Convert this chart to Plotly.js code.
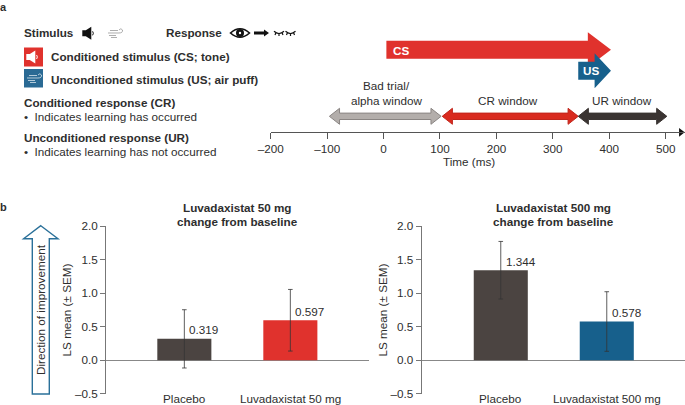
<!DOCTYPE html>
<html><head><meta charset="utf-8">
<script src="https://cdn.plot.ly/plotly-3.0.1.min.js"></script>
<style>html,body{margin:0;padding:0;background:#fff}#c{width:685px;height:405px}</style></head>
<body><div id="c"></div>
<script>
// ---- data ----
var timeTicks = [-200,-100,0,100,200,300,400,500];
var timeLabels = ['–200','–100','0','100','200','300','400','500'];
var csStart = 5, csEnd = 403;
var usStart = 345, usEnd = 403;
var badWindow = [-96,102];
var crWindow = [104,345];
var urWindow = [345,502];
var catsA = ['Placebo','Luvadaxistat 50 mg'];
var valsA = [0.319,0.597];
var semA = [0.435,0.46];
var catsB = ['Placebo','Luvadaxistat 500 mg'];
var valsB = [1.344,0.578];
var semB = [0.43,0.445];
var yTicks = [-0.5,0,0.5,1,1.5,2];
var yLabels = ['–0.5','0.0','0.5','1.0','1.5','2.0'];
var RED='#e0322d', BLUE='#17608c', BROWN='#4b4441', INK='#2e2e2e', AX='#777777';
var W=685,H=405, FONT='"Liberation Sans", Arial, sans-serif', FS=11.7;
function fx(p){return p/W;} function fy(p){return 1-p/H;}

var traces=[], shapes=[], ann=[];
function text(x,y,t,opt){opt=opt||{};ann.push(Object.assign({xref:'paper',yref:'paper',x:fx(x),y:fy(y),text:t,showarrow:false,xanchor:opt.a||'left',yanchor:'middle',
  borderpad:0,borderwidth:0,align:opt.al||'left',font:{family:FONT,size:opt.s||FS,color:opt.c||INK}},opt.rot?{textangle:opt.rot}:{}));}

function oneWay(a,b,yc,hs,hh,hl,col){
  traces.push({type:'scatter',mode:'lines',xaxis:'x3',yaxis:'y3',fill:'toself',fillcolor:col,line:{width:0,color:col},hoverinfo:'skip',
   x:[a,b-hl,b-hl,b,b-hl,b-hl,a,a],y:[yc-hs,yc-hs,yc-hh,yc,yc+hh,yc+hs,yc+hs,yc-hs]});
}
function twoWay(r,col,edge){
  var a=r[0],b=r[1],hl=18,yc=116.3,hs=3.2,hh=8;
  traces.push({type:'scatter',mode:'lines',xaxis:'x3',yaxis:'y3',fill:'toself',fillcolor:col,line:{width:1,color:edge},hoverinfo:'skip',
   x:[a,a+hl,a+hl,b-hl,b-hl,b,b-hl,b-hl,a+hl,a+hl,a],y:[yc,yc-hh,yc-hs,yc-hs,yc-hh,yc,yc+hh,yc+hs,yc+hs,yc+hh,yc]});
}
oneWay(csStart,csEnd,49.7,9,17.5,41,RED);
oneWay(usStart,usEnd,70.7,9,17.5,29,BLUE);
twoWay(badWindow,'#b3aeab','#8a8583');
twoWay(crWindow,'#d92b1f','#c0261c');
twoWay(urWindow,'#3a3432','#3a3432');
traces.push({type:'scatter',mode:'markers',xaxis:'x3',yaxis:'y3',cliponaxis:false,x:[527],y:[132.3],marker:{symbol:'triangle-right',size:7.5,color:'#111'},hoverinfo:'skip'});

function bars(c,v,s,col,xa,ya){
  traces.push({type:'bar',x:[0,1],y:v,width:0.51,xaxis:xa,yaxis:ya,marker:{color:col},
    error_y:{type:'data',array:s,visible:true,color:'#333',thickness:0.8,width:2.3},hoverinfo:'skip'});
}
bars(catsA,valsA,semA,[BROWN,RED],'x','y');
bars(catsB,valsB,semB,[BROWN,BLUE],'x2','y2');

function dataLabels(xa,ya,v){v.forEach(function(val,i){
  ann.push({xref:xa,yref:ya,x:i+0.047,y:val,yshift:9,text:val.toFixed(3),showarrow:false,borderpad:0,borderwidth:0,xanchor:'left',yanchor:'middle',font:{family:FONT,size:FS,color:INK}});
});}
dataLabels('x','y',valsA);dataLabels('x2','y2',valsB);
function catLabels(xa,c){c.forEach(function(t,i){
  ann.push({xref:xa,yref:'paper',x:i,y:fy(398.7),text:t,showarrow:false,borderpad:0,borderwidth:0,xanchor:'center',yanchor:'middle',font:{family:FONT,size:FS,color:INK}});
});}
catLabels('x',catsA);catLabels('x2',catsB);

text(0,6.5,'<b>a</b>',{s:11});
text(0,207,'<b>b</b>',{s:11});
text(24.3,32,'<b>Stimulus</b>');
text(166.3,32,'<b>Response</b>');
text(51,57,'<b>Conditioned stimulus (CS; tone)</b>');
text(51,79,'<b>Unconditioned stimulus (US; air puff)</b>');
text(24.3,102.4,'<b>Conditioned response (CR)</b>');
text(24.3,116.7,'•  Indicates learning has occurred');
text(24.3,137,'<b>Unconditioned response (UR)</b>');
text(24.3,151,'•  Indicates learning has not occurred');
text(393,50.3,'<b>CS</b>',{c:'#fff'});
text(583,70.7,'<b>US</b>',{c:'#fff'});
text(386,85.7,'Bad trial/',{a:'center'});
text(386,100,'alpha window',{a:'center'});
text(507.5,100,'CR window',{a:'center'});
text(622,100,'UR window',{a:'center'});
text(468.5,161.7,'Time (ms)',{a:'center'});
text(237.4,207.7,'<b>Luvadaxistat 50 mg</b>',{a:'center'});
text(237.4,221.7,'<b>change from baseline</b>',{a:'center'});
text(553,207.7,'<b>Luvadaxistat 500 mg</b>',{a:'center'});
text(553,221.7,'<b>change from baseline</b>',{a:'center'});
text(40,310,'Direction of improvement',{a:'center',rot:-90});

function pshape(path,fill,line,lw){shapes.push({type:'path',xref:'paper',yref:'paper',path:path.replace(/(-?[\d.]+) (-?[\d.]+)/g,function(m,a,b){return fx(+a).toFixed(5)+','+fy(+b).toFixed(5);}),fillcolor:fill||'rgba(0,0,0,0)',line:{color:line||fill,width:lw===undefined?0:lw}});}
function circle(cx,cy,r,col){shapes.push({type:'circle',xref:'paper',yref:'paper',x0:fx(cx-r),x1:fx(cx+r),y0:fy(cy-r),y1:fy(cy+r),fillcolor:col,line:{width:0}});}
function speaker(x,y,s,col){
  pshape('M'+(x)+' '+(y-3*s)+' L'+(x+3.5*s)+' '+(y-3*s)+' L'+(x+9*s)+' '+(y-6.5*s)+' L'+(x+9*s)+' '+(y+6.5*s)+' L'+(x+3.5*s)+' '+(y+3*s)+' L'+x+' '+(y+3*s)+' Z',col);
  pshape('M'+(x+10.3*s)+' '+(y-2*s)+' Q'+(x+11.8*s)+' '+y+' '+(x+10.3*s)+' '+(y+2*s),null,col,1);
}
function wind(x,y,col){
  pshape('M'+(x+2)+' '+(y-2.5)+' L'+(x+10)+' '+(y-2.5)+' M'+x+' '+y+' L'+(x+11)+' '+y+' Q'+(x+15)+' '+y+' '+(x+14.5)+' '+(y-3)+' Q'+(x+13)+' '+(y-5.5)+' '+(x+11)+' '+(y-3)+' M'+(x+1)+' '+(y+2.5)+' L'+(x+8)+' '+(y+2.5)+' M'+(x+3)+' '+(y+4.5)+' L'+(x+9)+' '+(y+4.5),null,col,0.8);
}
shapes.push({type:'rect',xref:'paper',yref:'paper',x0:fx(24),x1:fx(43),y0:fy(47.5),y1:fy(66.5),fillcolor:RED,line:{width:0}});
shapes.push({type:'rect',xref:'paper',yref:'paper',x0:fx(24),x1:fx(43),y0:fy(69),y1:fy(87.5),fillcolor:'#2a6a94',line:{width:0}});
speaker(26.3,57,1,'#fff');
wind(27,78,'#d8e4ec');
speaker(82.3,33.3,1,'#111');
wind(108,33,'#999');
pshape('M230.5 33 Q240 24.5 249.5 33 Q240 41.5 230.5 33 Z','#fff','#111',1.6);
circle(240,33,4,'#111');
circle(240,33,1.2,'#fff');
pshape('M254 31.5 L264 31.5 L264 29.5 L269 33 L264 36.5 L264 34.5 L254 34.5 Z','#111');
[274,285.5].forEach(function(x){
  pshape('M'+x+' 31.3 Q'+(x+5)+' 35.8 '+(x+10)+' 31.3 M'+(x+2)+' 32.5 L'+(x+1)+' 35 M'+(x+5)+' 33.8 L'+(x+5)+' 36 M'+(x+8)+' 32.5 L'+(x+9)+' 35',null,'#111',1.2);
});
pshape('M40.8 225.7 L58 238.7 L49.3 238.7 L49.3 394 L32.3 394 L32.3 238.7 L23.6 238.7 Z','#fff','#2a7099',1.4);

var tf={family:FONT,size:FS,color:INK};
function yAx(anchor,standoff){return {domain:[fy(393.7),fy(226.3)],range:[-0.5,2],anchor:anchor,tickvals:yTicks,ticktext:yLabels,ticks:'outside',ticklen:5,tickcolor:AX,tickwidth:1,showline:true,linecolor:AX,linewidth:1,showgrid:false,zeroline:true,zerolinecolor:'#888',zerolinewidth:1.2,tickfont:tf,
   title:{text:'LS mean (± SEM)',font:{family:FONT,size:FS,color:INK},standoff:standoff}};}
var layout={width:W,height:H,margin:{l:0,r:0,t:0,b:0},paper_bgcolor:'#fff',plot_bgcolor:'rgba(0,0,0,0)',showlegend:false,barmode:'group',
 font:{family:FONT,color:INK},shapes:shapes,annotations:ann,
 xaxis:{domain:[fx(106),fx(369)],range:[-0.739,1.742],anchor:'y',showgrid:false,zeroline:false,showticklabels:false,ticks:'',showline:false,fixedrange:true},
 yaxis:yAx('x',0),
 xaxis2:{domain:[fx(421.7),1],range:[-0.746,1.738],anchor:'y2',showgrid:false,zeroline:false,showticklabels:false,ticks:'',showline:false,fixedrange:true},
 yaxis2:yAx('x2',0),
 xaxis3:{domain:[fx(270.7),1],range:[-200,534.2],anchor:'y3',tickvals:timeTicks,ticktext:timeLabels,ticks:'outside',ticklen:6,tickcolor:'#555',tickwidth:1,showline:true,linecolor:'#555',linewidth:1,showgrid:false,zeroline:false,tickfont:tf,side:'bottom'},
 yaxis3:{domain:[fy(132.3),fy(20)],range:[132.3,20],anchor:'x3',visible:false,showgrid:false,zeroline:false}
};
Plotly.newPlot('c',traces,layout,{staticPlot:true,displayModeBar:false});
</script></body></html>
